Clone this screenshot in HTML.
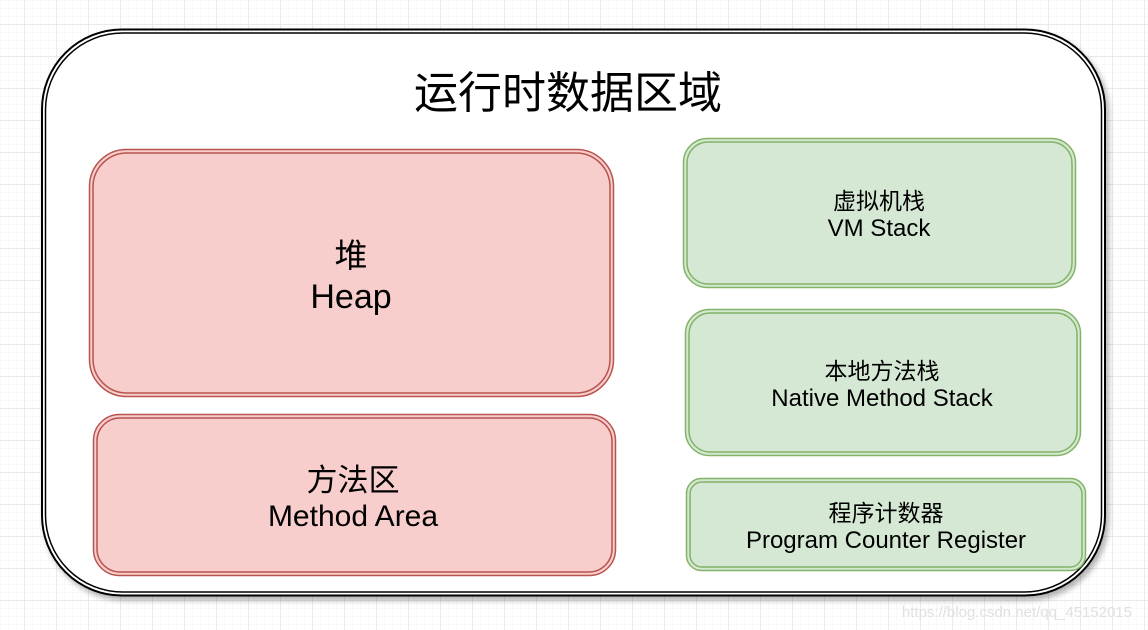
<!DOCTYPE html>
<html><head><meta charset="utf-8"><style>
html,body{margin:0;padding:0;background:#fff}
svg{display:block}
text{font-family:"Liberation Sans","Noto Sans CJK SC",sans-serif;fill:#000;text-anchor:middle}
</style></head><body>
<svg width="1148" height="630" viewBox="0 0 1148 630" xmlns="http://www.w3.org/2000/svg">
<defs>
<pattern id="mn" width="8" height="8" patternUnits="userSpaceOnUse"><path d="M8 0V8M0 8H8" stroke="#f3f3f3" stroke-width="1" fill="none"/></pattern>
<pattern id="mj" x="24.5" y="24.5" width="32" height="32" patternUnits="userSpaceOnUse"><rect width="32" height="32" fill="url(#mn)"/><path d="M0 0V32M0 0H32" stroke="#e2e2e2" stroke-width="1" fill="none"/></pattern>
<filter id="sh" x="-5%" y="-5%" width="110%" height="115%"><feGaussianBlur in="SourceAlpha" stdDeviation="3"/><feOffset dx="3" dy="4"/><feComponentTransfer><feFuncA type="linear" slope="0.3"/></feComponentTransfer><feMerge><feMergeNode/><feMergeNode in="SourceGraphic"/></feMerge></filter>
</defs>
<rect width="1148" height="630" fill="url(#mj)"/>
<g filter="url(#sh)">
<rect x="42" y="29.5" width="1063" height="566" rx="80" fill="#fff" stroke="#000" stroke-width="2"/>
</g>
<rect x="45.5" y="33" width="1056" height="559" rx="77" fill="none" stroke="#000" stroke-width="1.5"/>
<text x="568" y="108" font-size="44">运行时数据区域</text>

<g fill="#f8cecc" stroke="#b85450" stroke-width="1.5">
<rect x="89.5" y="149.5" width="524" height="247" rx="37"/>
<rect x="93" y="153" width="517" height="240" rx="34" fill="none"/>
<rect x="93.5" y="414.5" width="522" height="161" rx="26"/>
<rect x="97" y="418" width="515" height="154" rx="23" fill="none"/>
</g>
<g fill="#d5e8d4" stroke="#82b366" stroke-width="1.5">
<rect x="683.5" y="138.5" width="392" height="149" rx="24"/>
<rect x="687" y="142" width="385" height="142" rx="21" fill="none"/>
<rect x="685.5" y="309.5" width="395" height="146" rx="24"/>
<rect x="689" y="313" width="388" height="139" rx="21" fill="none"/>
<rect x="686.5" y="478.5" width="399" height="92" rx="15"/>
<rect x="690" y="482" width="392" height="85" rx="12" fill="none"/>
</g>

<text x="351" y="267" font-size="33">堆</text>
<text x="351" y="308" font-size="34">Heap</text>
<text x="353" y="491" font-size="31">方法区</text>
<text x="353" y="526" font-size="30">Method Area</text>
<text x="879" y="209" font-size="23">虚拟机栈</text>
<text x="879" y="236" font-size="24">VM Stack</text>
<text x="882" y="379" font-size="23">本地方法栈</text>
<text x="882" y="406" font-size="24">Native Method Stack</text>
<text x="886" y="521" font-size="23">程序计数器</text>
<text x="886" y="548" font-size="24">Program Counter Register</text>
<text x="1017" y="617" font-size="15" style="fill:#e0e0e0">https://blog.csdn.net/qq_45152015</text>
</svg>
</body></html>
